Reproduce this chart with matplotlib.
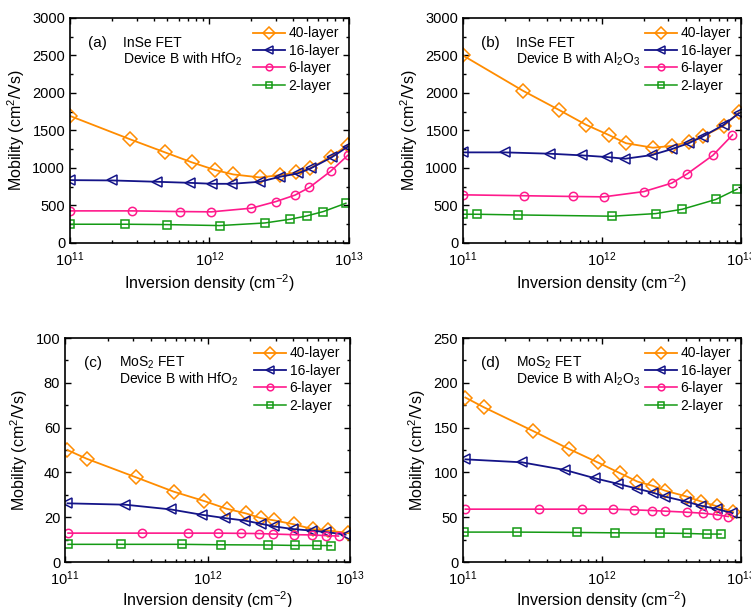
import matplotlib
matplotlib.use("Agg")
import matplotlib.pyplot as plt
from matplotlib.ticker import AutoMinorLocator, LogLocator, NullFormatter

plt.rcParams['font.family'] = ['Liberation Sans', 'DejaVu Sans']
plt.rcParams['mathtext.default'] = 'regular'
plt.rcParams['font.size'] = 10

# ---- data (x in cm^-2, y in cm^2/Vs) ----
layers = ['40-layer', '16-layer', '6-layer', '2-layer']

# (a) InSe, HfO2
a40_x = [1e11, 2.7e11, 4.8e11, 7.5e11, 1.1e12, 1.48e12, 2.3e12, 3.2e12, 4.2e12, 5.25e12, 7.4e12, 9.8e12]
a40_y = [1694, 1382, 1208, 1074, 972, 914, 874, 905, 940, 994, 1150, 1306]
a16_x = [1e11, 2.0e11, 4.2e11, 7.2e11, 1.05e12, 1.44e12, 2.3e12, 3.2e12, 4.3e12, 5.3e12, 7.5e12, 9.8e12]
a16_y = [838, 834, 816, 802, 789, 789, 816, 883, 927, 994, 1141, 1284]
a6_x = [1e11, 2.77e11, 6.15e11, 1.03e12, 2.0e12, 3.0e12, 4.1e12, 5.2e12, 7.4e12, 9.8e12]
a6_y = [428, 428, 419, 415, 464, 553, 638, 740, 958, 1168]
a2_x = [1e11, 2.48e11, 5.0e11, 1.18e12, 2.5e12, 3.8e12, 4.98e12, 6.55e12, 9.5e12]
a2_y = [250, 250, 245, 232, 267, 317, 361, 419, 530]

# (b) InSe, Al2O3
b40_x = [1e11, 2.7e11, 4.9e11, 7.7e11, 1.12e12, 1.49e12, 2.33e12, 3.2e12, 4.2e12, 5.3e12, 7.5e12, 9.7e12]
b40_y = [2500, 2030, 1775, 1575, 1440, 1330, 1270, 1295, 1345, 1420, 1560, 1740]
b16_x = [1e11, 2.0e11, 4.25e11, 7.2e11, 1.08e12, 1.47e12, 2.28e12, 3.2e12, 4.2e12, 5.3e12, 7.5e12, 9.7e12]
b16_y = [1208, 1208, 1190, 1168, 1146, 1123, 1172, 1253, 1329, 1418, 1574, 1730]
b6_x = [1e11, 2.76e11, 6.17e11, 1.03e12, 2.0e12, 3.18e12, 4.1e12, 6.3e12, 8.7e12]
b6_y = [642, 630, 620, 615, 685, 798, 920, 1170, 1440]
b2_x = [1e11, 1.26e11, 2.47e11, 1.19e12, 2.44e12, 3.79e12, 6.6e12, 9.4e12]
b2_y = [383, 383, 374, 357, 392, 450, 580, 718]

# (c) MoS2, HfO2
c40_x = [1.04e11, 1.42e11, 3.15e11, 5.8e11, 9.5e11, 1.36e12, 1.86e12, 2.36e12, 2.93e12, 4.06e12, 5.47e12, 6.97e12, 9.7e12]
c40_y = [50.0, 46.1, 37.8, 31.4, 27.2, 23.8, 21.7, 19.6, 18.6, 16.8, 14.7, 14.1, 12.9]
c16_x = [1.04e11, 2.64e11, 5.5e11, 9.1e11, 1.33e12, 1.83e12, 2.36e12, 2.93e12, 4.0e12, 5.4e12, 6.8e12, 9.3e12]
c16_y = [26.2, 25.6, 23.5, 21.1, 19.6, 18.5, 17.1, 15.9, 14.7, 14.0, 13.4, 12.2]
c6_x = [1.05e11, 3.45e11, 7.3e11, 1.19e12, 1.71e12, 2.28e12, 2.87e12, 4.06e12, 5.38e12, 6.8e12, 8.3e12]
c6_y = [12.9, 12.9, 12.9, 12.9, 12.8, 12.7, 12.5, 12.2, 12.1, 11.8, 11.6]
c2_x = [1.05e11, 2.47e11, 6.65e11, 1.24e12, 2.64e12, 4.1e12, 5.83e12, 7.4e12]
c2_y = [7.9, 7.9, 7.9, 7.7, 7.6, 7.4, 7.4, 7.3]

# (d) MoS2, Al2O3
d40_x = [1.04e11, 1.41e11, 3.17e11, 5.8e11, 9.3e11, 1.34e12, 1.8e12, 2.34e12, 2.84e12, 4.07e12, 5.2e12, 6.7e12, 8.8e12]
d40_y = [183.6, 172.8, 146.5, 126.1, 111.3, 99.4, 89.8, 84.9, 79.7, 73.1, 67.5, 62.3, 55.6]
d16_x = [1.04e11, 2.65e11, 5.43e11, 8.9e11, 1.31e12, 1.78e12, 2.32e12, 2.84e12, 4.03e12, 5.2e12, 6.7e12, 8.7e12]
d16_y = [114.6, 111.3, 102.7, 93.5, 87.2, 82.0, 77.5, 73.1, 67.5, 62.7, 59.3, 54.5]
d6_x = [1.04e11, 3.5e11, 7.2e11, 1.2e12, 1.7e12, 2.28e12, 2.84e12, 4.07e12, 5.3e12, 6.7e12, 8.1e12]
d6_y = [59.0, 59.0, 59.0, 59.0, 58.2, 57.5, 56.8, 55.6, 54.5, 52.7, 50.8]
d2_x = [1.02e11, 2.44e11, 6.6e11, 1.24e12, 2.62e12, 4.1e12, 5.66e12, 7.2e12]
d2_y = [33.4, 33.4, 33.0, 32.6, 32.3, 31.9, 31.2, 31.2]

colors = ['#FF8C00', '#141488', '#FF1A8C', '#149A14']
markers = ['D', '<', 'o', 's']
msizes = [7.5, 7.5, 6, 5.5]
lwidths = [1.3, 1.3, 1.2, 1.1]

panels = [
    dict(pos=[0.0932, 0.5997, 0.3715, 0.3707], tag='(a)', mat='InSe FET', ox='HfO$_2$', ymax=3000, ystep=500,
         xpad=3, data=[(a40_x, a40_y), (a16_x, a16_y), (a6_x, a6_y), (a2_x, a2_y)]),
    dict(pos=[0.6165, 0.5997, 0.370, 0.3707], tag='(b)', mat='InSe FET', ox='Al$_2$O$_3$', ymax=3000, ystep=500,
         xpad=3, data=[(b40_x, b40_y), (b16_x, b16_y), (b6_x, b6_y), (b2_x, b2_y)]),
    dict(pos=[0.0866, 0.0741, 0.3795, 0.369], tag='(c)', mat='MoS$_2$ FET', ox='HfO$_2$', ymax=100, ystep=20,
         xpad=1, data=[(c40_x, c40_y), (c16_x, c16_y), (c6_x, c6_y), (c2_x, c2_y)]),
    dict(pos=[0.6165, 0.0741, 0.370, 0.369], tag='(d)', mat='MoS$_2$ FET', ox='Al$_2$O$_3$', ymax=250, ystep=50,
         xpad=1, data=[(d40_x, d40_y), (d16_x, d16_y), (d6_x, d6_y), (d2_x, d2_y)]),
]

fig = plt.figure(figsize=(7.51, 6.07), dpi=100)

for p in panels:
    ax = fig.add_axes(p['pos'])
    for (x, y), lab, c, m, ms, lw in zip(p['data'], layers, colors, markers, msizes, lwidths):
        ax.plot(x, y, color=c, marker=m, ms=ms, mfc='none', mec=c, mew=1.1, lw=lw, label=lab)
    ax.set_xscale('log')
    ax.set_xlim(1e11, 1e13)
    ax.set_ylim(0, p['ymax'])
    ax.set_yticks(range(0, p['ymax'] + 1, p['ystep']))
    ax.yaxis.set_minor_locator(AutoMinorLocator(2))
    ax.xaxis.set_major_locator(LogLocator(base=10, numticks=5))
    ax.xaxis.set_minor_locator(LogLocator(base=10, subs=range(2, 10), numticks=20))
    ax.xaxis.set_minor_formatter(NullFormatter())
    ax.tick_params(which='both', direction='in', top=True, right=True, labelsize=10.5)
    ax.tick_params(axis='x', pad=5)
    ax.tick_params(which='major', length=4, width=1)
    ax.tick_params(which='minor', length=2.5, width=1)
    for s in ax.spines.values():
        s.set_linewidth(1.2)
    ax.set_xlabel('Inversion density (cm$^{-2}$)', fontsize=11.5, labelpad=p['xpad'])
    ax.set_ylabel('Mobility (cm$^2$/Vs)', fontsize=11.5, labelpad=4)
    ax.text(0.065, 0.89, p['tag'], transform=ax.transAxes, fontsize=11, va='center')
    ax.text(0.19, 0.89, p['mat'], transform=ax.transAxes, fontsize=10, va='center')
    ax.text(0.19, 0.815, 'Device B with ' + p['ox'], transform=ax.transAxes, fontsize=10, va='center')
    ax.legend(loc='upper right', bbox_to_anchor=(0.975, 0.975), frameon=False, fontsize=10,
              handlelength=2.3, labelspacing=0.25, handletextpad=0.25, borderaxespad=0,
              borderpad=0.2, markerscale=0.8)

fig.savefig('out.png', dpi=100)
